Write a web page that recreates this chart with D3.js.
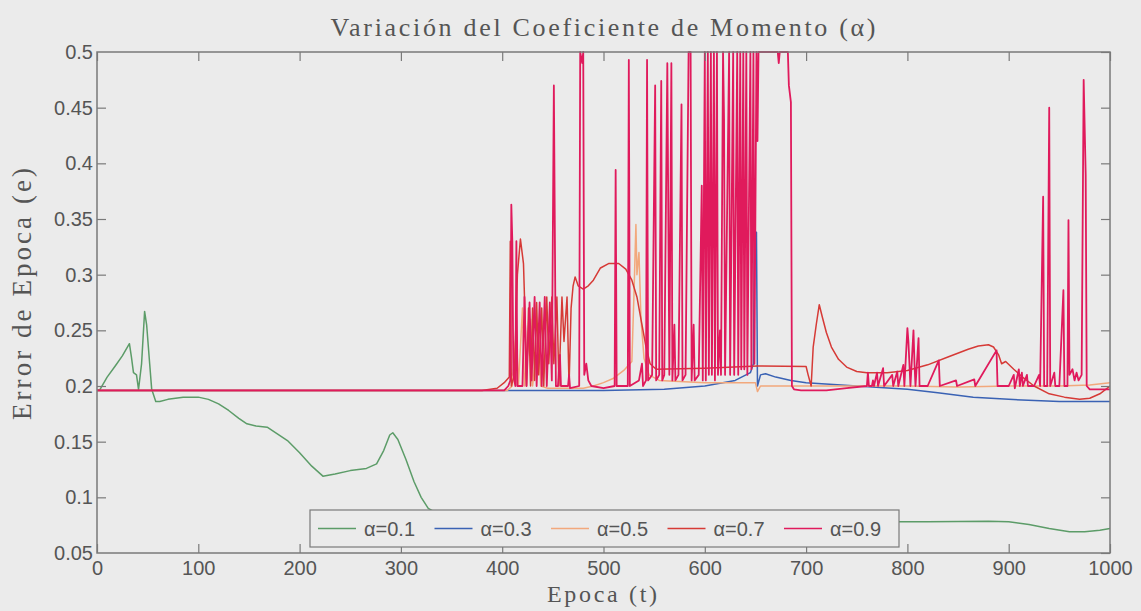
<!DOCTYPE html>
<html>
<head>
<meta charset="utf-8">
<script src="https://cdn.jsdelivr.net/npm/d3@7"></script>
<style>
  body { margin: 0; background: #ebebeb; }
  svg { display: block; }
</style>
</head>
<body>
<div class="chart"></div>
<script>
(function () {
    'use strict';

    // epoch / error pairs
    const alpha01 = [[0, 0.196], [3, 0.197], [10, 0.208], [18, 0.218], [25, 0.227], [32, 0.238], [34, 0.226], [36, 0.212], [39, 0.21], [41, 0.197], [44, 0.22], [47, 0.267], [49, 0.255], [52, 0.22], [54, 0.197], [58, 0.186], [62, 0.186], [70, 0.188], [85, 0.19], [100, 0.19], [110, 0.188], [120, 0.184], [130, 0.178], [140, 0.171], [148, 0.166], [157, 0.164], [168, 0.163], [178, 0.157], [188, 0.151], [200, 0.14], [212, 0.128], [223, 0.119], [235, 0.121], [250, 0.124], [266, 0.126], [276, 0.13], [283, 0.142], [289, 0.156], [292, 0.158], [297, 0.152], [305, 0.134], [313, 0.114], [320, 0.1], [327, 0.09], [335, 0.086], [360, 0.083], [400, 0.081], [500, 0.08], [600, 0.079], [700, 0.079], [791, 0.078], [820, 0.078], [850, 0.0782], [880, 0.0785], [900, 0.078], [920, 0.0755], [940, 0.072], [960, 0.069], [975, 0.069], [990, 0.0705], [1000, 0.072]];

    const alpha03 = [[0, 0.196], [500, 0.196], [560, 0.197], [600, 0.2], [630, 0.205], [645, 0.212], [648, 0.22], [649, 0.338], [651, 0.338], [652, 0.2], [655, 0.21], [660, 0.211], [670, 0.208], [685, 0.205], [700, 0.203], [750, 0.2], [800, 0.197], [830, 0.194], [865, 0.19], [900, 0.188], [950, 0.186], [1000, 0.186]];

    const alpha05 = [[0, 0.196], [405, 0.196], [410, 0.2], [414, 0.25], [416, 0.2], [420, 0.27], [422, 0.2], [428, 0.26], [430, 0.2], [436, 0.25], [438, 0.2], [445, 0.198], [480, 0.198], [490, 0.2], [500, 0.203], [510, 0.207], [520, 0.214], [528, 0.222], [530, 0.28], [532, 0.345], [533, 0.3], [535, 0.32], [537, 0.26], [540, 0.225], [545, 0.21], [555, 0.205], [600, 0.203], [650, 0.203], [652, 0.195], [655, 0.2], [700, 0.2], [800, 0.2], [850, 0.199], [900, 0.2], [950, 0.2], [980, 0.201], [1000, 0.203]];

    const alpha07 = [[0, 0.196], [380, 0.196], [395, 0.198], [402, 0.203], [407, 0.208], [408, 0.33], [409, 0.2], [412, 0.21], [415, 0.3], [418, 0.332], [421, 0.31], [423, 0.25], [424, 0.2], [426, 0.27], [428, 0.2], [430, 0.27], [432, 0.205], [434, 0.275], [436, 0.21], [439, 0.27], [441, 0.2], [444, 0.28], [446, 0.22], [449, 0.28], [451, 0.22], [454, 0.28], [456, 0.2], [459, 0.28], [461, 0.24], [464, 0.28], [466, 0.2], [468, 0.27], [470, 0.29], [472, 0.298], [475, 0.29], [480, 0.287], [485, 0.29], [490, 0.295], [497, 0.306], [505, 0.31], [515, 0.31], [522, 0.305], [528, 0.295], [533, 0.28], [538, 0.255], [542, 0.235], [546, 0.22], [552, 0.215], [600, 0.216], [652, 0.218], [700, 0.2175], [702, 0.21], [705, 0.2], [707, 0.235], [710, 0.255], [713, 0.273], [716, 0.262], [720, 0.248], [725, 0.235], [732, 0.224], [740, 0.217], [750, 0.213], [760, 0.212], [780, 0.212], [800, 0.214], [820, 0.219], [840, 0.226], [860, 0.233], [870, 0.236], [880, 0.237], [885, 0.235], [890, 0.228], [893, 0.22], [897, 0.222], [905, 0.215], [915, 0.207], [925, 0.2], [940, 0.193], [955, 0.19], [970, 0.188], [980, 0.189], [990, 0.193], [1000, 0.2]];

    const alpha09 = [[0, 0.196], [402, 0.196], [406, 0.2], [408, 0.205], [409, 0.363], [410, 0.33], [411, 0.21], [413, 0.2], [414, 0.33], [415, 0.2], [420, 0.2], [422, 0.28], [424, 0.2], [427, 0.275], [429, 0.205], [432, 0.28], [434, 0.2], [437, 0.275], [439, 0.2], [442, 0.28], [444, 0.2], [447, 0.275], [449, 0.205], [451, 0.47], [453, 0.2], [455, 0.2], [457, 0.228], [458, 0.2], [465, 0.2], [466, 0.21], [467, 0.198], [476, 0.2], [477, 0.5], [479, 0.49], [480, 0.5], [481, 0.21], [483, 0.22], [485, 0.205], [488, 0.2], [500, 0.198], [511, 0.2], [512, 0.394], [513, 0.2], [524, 0.2], [525, 0.493], [526, 0.2], [535, 0.205], [538, 0.22], [539, 0.2], [542, 0.205], [543, 0.493], [544, 0.205], [548, 0.21], [551, 0.47], [552, 0.205], [555, 0.21], [557, 0.474], [558, 0.205], [560, 0.21], [563, 0.49], [565, 0.21], [567, 0.49], [568, 0.205], [570, 0.255], [571, 0.205], [574, 0.21], [577, 0.453], [578, 0.205], [581, 0.21], [584, 0.5], [586, 0.5], [587, 0.205], [589, 0.255], [590, 0.205], [594, 0.21], [597, 0.38], [598, 0.205], [600, 0.5], [601, 0.205], [603, 0.5], [604, 0.21], [606, 0.5], [607, 0.21], [609, 0.5], [610, 0.205], [612, 0.5], [613, 0.21], [615, 0.25], [616, 0.21], [618, 0.5], [619, 0.44], [620, 0.21], [624, 0.5], [625, 0.21], [628, 0.5], [629, 0.21], [632, 0.5], [633, 0.21], [635, 0.5], [636, 0.215], [638, 0.5], [639, 0.215], [641, 0.5], [642, 0.21], [645, 0.5], [646, 0.215], [648, 0.5], [649, 0.22], [651, 0.5], [652, 0.42], [653, 0.5], [672, 0.5], [673, 0.49], [674, 0.5], [682, 0.5], [683, 0.47], [685, 0.455], [686, 0.2], [688, 0.197], [695, 0.196], [720, 0.196], [740, 0.198], [760, 0.2], [761, 0.212], [762, 0.2], [765, 0.2], [766, 0.205], [767, 0.2], [770, 0.212], [771, 0.2], [776, 0.216], [777, 0.2], [785, 0.21], [786, 0.2], [790, 0.213], [791, 0.2], [796, 0.219], [797, 0.2], [800, 0.252], [801, 0.24], [803, 0.2], [806, 0.25], [807, 0.22], [808, 0.2], [811, 0.243], [812, 0.2], [820, 0.2], [831, 0.223], [832, 0.2], [848, 0.205], [849, 0.2], [866, 0.206], [867, 0.2], [888, 0.232], [889, 0.2], [900, 0.2], [905, 0.21], [906, 0.198], [910, 0.215], [911, 0.2], [913, 0.212], [914, 0.2], [918, 0.21], [919, 0.2], [925, 0.2], [930, 0.21], [931, 0.2], [934, 0.37], [935, 0.2], [938, 0.2], [940, 0.45], [941, 0.2], [945, 0.212], [946, 0.2], [950, 0.2], [954, 0.286], [955, 0.2], [958, 0.2], [959, 0.349], [960, 0.21], [963, 0.215], [965, 0.205], [967, 0.212], [969, 0.205], [972, 0.21], [974, 0.475], [976, 0.39], [977, 0.2], [980, 0.197], [1000, 0.197]];

    const seriesNames = ['\u03b1=0.1', '\u03b1=0.3', '\u03b1=0.5', '\u03b1=0.7', '\u03b1=0.9'];
    const seriesData = [alpha01, alpha03, alpha05, alpha07, alpha09];
    const seriesColors = ['#5c9c68', '#3a62b4', '#f2a87c', '#d63a36', '#e01a5c'];

    const xTicks = [0, 100, 200, 300, 400, 500, 600, 700, 800, 900, 1000];
    const yTicks = [0.05, 0.1, 0.15, 0.2, 0.25, 0.3, 0.35, 0.4, 0.45, 0.5];

    const width = 1141;
    const height = 611;
    const plot = { left: 97, right: 1110, top: 52, bottom: 553 };
    const axisColor = '#7a7a7a';
    const textColor = '#555';

    const svg = d3.select('.chart').append('svg').attr('width', width).attr('height', height);
    svg.append('rect').attr('width', width).attr('height', height).attr('fill', '#ebebeb');

    const x = d3.scaleLinear().domain([0, 1000]).range([plot.left, plot.right]);
    const y = d3.scaleLinear().domain([0.05, 0.5]).range([plot.bottom, plot.top]);

    svg.append('clipPath').attr('id', 'clip').append('rect')
        .attr('x', plot.left).attr('y', plot.top - 1)
        .attr('width', plot.right - plot.left).attr('height', plot.bottom - plot.top + 1);

    const line = d3.line().x(function (d) { return x(d[0]); }).y(function (d) { return y(d[1]); });

    const lines = svg.append('g').attr('clip-path', 'url(#clip)');
    seriesData.forEach(function (data, i) {
        lines.append('path')
            .attr('d', line(data))
            .attr('fill', 'none')
            .attr('stroke', seriesColors[i])
            .attr('stroke-width', i === 4 ? 1.8 : 1.5)
            .attr('stroke-linejoin', 'round');
    });

    // axes with inward ticks, MATLAB style box
    const tickFont = '"Liberation Sans", Arial, sans-serif';
    const styleAxis = function (g) {
        g.selectAll('.domain').remove();
        g.selectAll('line').attr('stroke', axisColor).attr('stroke-width', 1.2);
        g.selectAll('text').attr('fill', textColor).style('font-family', tickFont).style('font-size', '20px');
    };

    svg.append('g').attr('transform', 'translate(0,' + plot.bottom + ')')
        .call(d3.axisBottom(x).tickValues(xTicks).tickFormat(d3.format('d')).tickSizeInner(-9).tickPadding(8))
        .call(styleAxis)
        .call(function (g) { g.selectAll('text').attr('dy', '0.71em'); });
    svg.append('g').attr('transform', 'translate(0,' + plot.top + ')')
        .call(d3.axisTop(x).tickValues(xTicks).tickFormat('').tickSizeInner(-9))
        .call(styleAxis);
    svg.append('g').attr('transform', 'translate(' + plot.left + ',0)')
        .call(d3.axisLeft(y).tickValues(yTicks).tickFormat(d3.format('')).tickSizeInner(-9).tickPadding(4))
        .call(styleAxis)
        .call(function (g) { g.selectAll('.tick line').filter(function (d) { return d === 0.05 || d === 0.5; }).remove(); });
    svg.append('g').attr('transform', 'translate(' + plot.right + ',0)')
        .call(d3.axisRight(y).tickValues(yTicks).tickFormat('').tickSizeInner(-9))
        .call(styleAxis);

    svg.append('rect')
        .attr('x', plot.left).attr('y', plot.top)
        .attr('width', plot.right - plot.left).attr('height', plot.bottom - plot.top)
        .attr('fill', 'none').attr('stroke', axisColor).attr('stroke-width', 1.5);

    // titles
    const serif = '"Liberation Serif", "Times New Roman", serif';
    svg.append('text').text('Variaci\u00f3n del Coeficiente de Momento (\u03b1)')
        .attr('x', 603).attr('y', 36)
        .attr('text-anchor', 'middle').attr('fill', textColor)
        .attr('textLength', 545).attr('lengthAdjust', 'spacing')
        .style('font-family', serif).style('font-size', '26px');
    svg.append('text').text('Epoca (t)')
        .attr('x', 602).attr('y', 602)
        .attr('text-anchor', 'middle').attr('fill', textColor)
        .attr('textLength', 110).attr('lengthAdjust', 'spacing')
        .style('font-family', serif).style('font-size', '24px');
    svg.append('text').text('Error de Epoca (e)')
        .attr('transform', 'translate(31,294) rotate(-90)')
        .attr('text-anchor', 'middle').attr('fill', textColor)
        .attr('textLength', 252).attr('lengthAdjust', 'spacing')
        .style('font-family', serif).style('font-size', '27px');

    // legend
    const legend = svg.append('g').attr('transform', 'translate(310,510)');
    legend.append('rect').attr('width', 589).attr('height', 37)
        .attr('fill', '#ebebeb').attr('stroke', axisColor).attr('stroke-width', 1.2);
    const entry = legend.selectAll('.entry').data(seriesNames).enter().append('g')
        .attr('class', 'entry')
        .attr('transform', function (d, i) { return 'translate(' + (8 + i * 116.5) + ',0)'; });
    entry.append('line')
        .attr('x1', 0).attr('x2', 38).attr('y1', 18.5).attr('y2', 18.5)
        .attr('stroke', function (d, i) { return seriesColors[i]; }).attr('stroke-width', 1.5);
    entry.append('text').text(function (d) { return d; })
        .attr('x', 46).attr('y', 25.5).attr('fill', textColor)
        .style('font-family', tickFont).style('font-size', '20px');
}());
</script>
</body>
</html>
